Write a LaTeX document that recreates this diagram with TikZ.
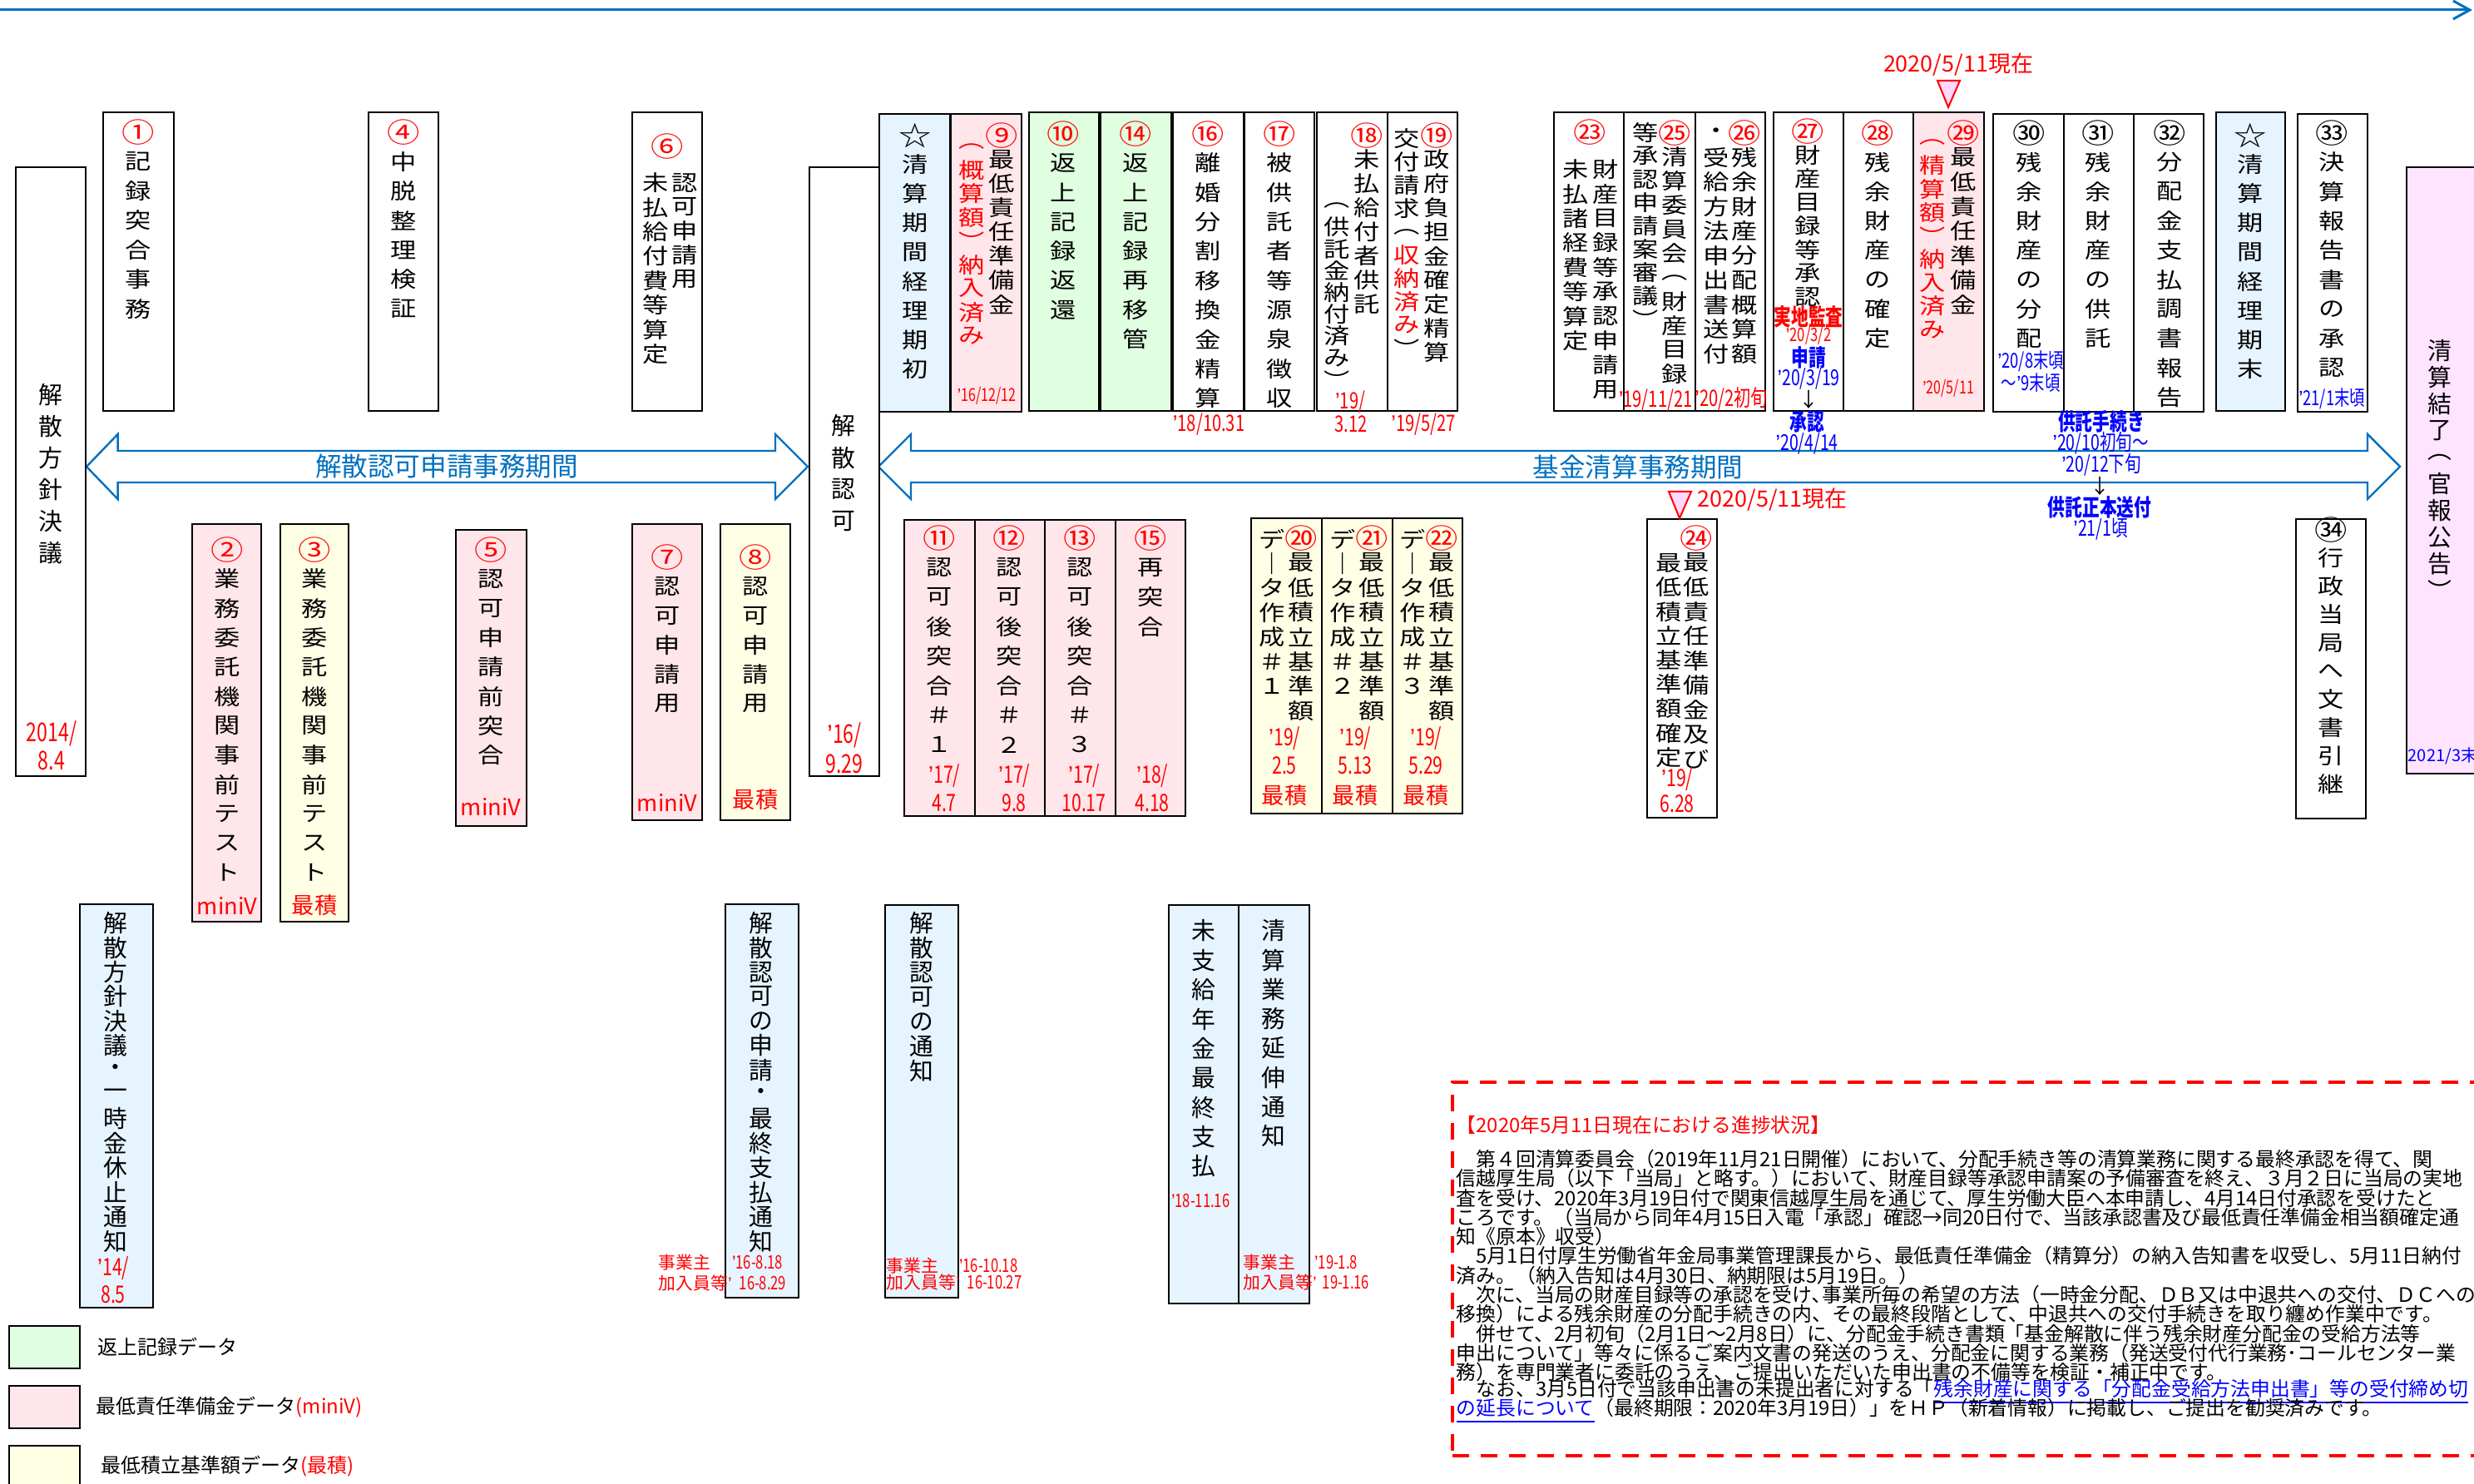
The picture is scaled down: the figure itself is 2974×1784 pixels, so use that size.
\documentclass[tikz,border=0pt]{standalone}
\usepackage{fontspec}
\setmainfont{Noto Sans CJK JP}
\newfontfamily\jp{Noto Sans CJK JP}
\newfontfamily\vf[FakeStretch=1.2]{Noto Sans CJK JP}
\newfontfamily\cf[FakeStretch=0.74]{Noto Sans CJK JP}
\newfontfamily\lqf{Liberation Sans}
\usetikzlibrary{arrows.meta}
\definecolor{lblue}{RGB}{230,244,255}
\definecolor{lpink}{RGB}{255,230,234}
\definecolor{lgreen}{RGB}{224,255,224}
\definecolor{lyel}{RGB}{255,255,230}
\definecolor{lmag}{RGB}{255,228,255}
\definecolor{abl}{RGB}{0,112,192}
\definecolor{rd}{RGB}{255,0,0}
\definecolor{bl}{RGB}{0,0,255}
\definecolor{tri}{RGB}{255,215,255}

\ExplSyntaxOn
\tl_new:N \l_vs_col_tl
\dim_new:N \l_vs_step_dim
\dim_new:N \l_vs_px_dim
\dim_set:Nn \l_vs_px_dim {0.25pt}
\newcommand\vsR{}
\newcommand\vsK{}
\newcommand\vsB{}
\NewDocumentCommand\vstack{mm}
 {
  \dim_set:Nn \l_vs_step_dim {#1\l_vs_px_dim}
  \tl_set:Nn \l_vs_col_tl {black}
  \vbox:n
   {
    \offinterlineskip
    \tl_map_inline:nn {#2}
     {
      \str_case:nnF {##1}
       {
        {\vsR}{\tl_set:Nn \l_vs_col_tl {rd}}
        {\vsK}{\tl_set:Nn \l_vs_col_tl {black}}
        {\vsB}{\tl_set:Nn \l_vs_col_tl {bl}}
       }
       {
        \hbox_to_wd:nn {1.2em}
         { \hss \vbox_to_ht:nn {\l_vs_step_dim} { \vss \hbox:n {\color{\l_vs_col_tl}##1} \vss } \hss }
       }
     }
   }
 }
\ExplSyntaxOff

\newcommand\fc[1]{\cf\fontsize{#1}{#1}\selectfont}
\newcommand\fj[1]{\jp\fontsize{#1}{#1}\selectfont}
\newcommand\cn{\fontsize{8.2pt}{8.2pt}\selectfont}
\newcommand\qq{{\lqf ’}}
\newcommand\bx[6]{\node[bx,fill=#6,minimum width={(#4-#2)*0.25pt},minimum height={(#5-#3)*0.25pt}] (#1) at ({(#2+#4)/2},{(#3+#5)/2}) {};}
\newcommand\vc[6][]{\node[vcol,#1] (#2) at (#3,{#4-#5/2}) {\vstack{#5}{#6}};}

\begin{document}
\begin{tikzpicture}[x=0.25pt,y=-0.25pt,
  bx/.style={draw=black,line width=0.7pt,inner sep=0pt,outer sep=0pt},
  vcol/.style={inner sep=0pt,anchor=north,font=\vf\fontsize{6.5pt}{6.5pt}\selectfont},
  vcolb/.style={font=\jp\fontsize{7.2pt}{7.2pt}\selectfont},
  rtx/.style={text=rd,inner sep=0pt},
  btx/.style={text=bl,inner sep=0pt},
  ln/.style={anchor=west,inner sep=0pt,font=\fj{5.95pt}},
  period/.style={draw=abl,line width=0.6pt,fill=white},
  marktri/.style={draw=rd,fill=tri,line width=0.5pt}]
\useasboundingbox (0,0) rectangle (2974,1784);

% top timeline
\coordinate (tl0) at (0,12);
\coordinate (tl1) at (2972,12);
\draw[abl,line width=0.75pt,-{Straight Barb[length=5pt,width=5.5pt]}] (tl0) -- (tl1);

% period arrows
\draw[period] (104,561) -- (141.6,522) -- (141.6,542) -- (932,542) -- (932,522) -- (971,561) -- (932,600) -- (932,580) -- (141.6,580) -- (141.6,600) -- cycle;
\draw[period] (1056,561) -- (1095,522) -- (1095,542) -- (2846,542) -- (2846,522) -- (2885,561) -- (2846,600) -- (2846,580) -- (1095,580) -- (1095,600) -- cycle;
\node[text=abl,font=\fj{7.9pt},inner sep=0pt] (al1) at (537,561) {解散認可申請事務期間};
\node[text=abl,font=\fj{7.9pt},inner sep=0pt] (al2) at (1969,561) {基金清算事務期間};

% ---------- boxes ----------
\bx{b1}{124}{135}{209}{494}{white}
\bx{b4}{443}{135}{527}{494}{white}
\bx{b6}{760}{135}{844}{494}{white}
\bx{bL}{19}{201}{103}{933}{white}
\bx{bN}{973}{201}{1057}{933}{white}
\bx{bS1}{1057}{137}{1142}{495}{lblue}
\bx{b9}{1143}{137}{1228}{495}{lpink}
\bx{b10}{1237}{135}{1321}{494}{lgreen}
\bx{b14}{1323}{135}{1408}{494}{lgreen}
\bx{b16}{1410}{135}{1495}{494}{white}
\bx{b17}{1496}{135}{1580}{494}{white}
\bx{b18}{1583}{135}{1668}{494}{white}
\bx{b19}{1668}{135}{1752}{494}{white}
\bx{b23}{1868}{135}{1952}{494}{white}
\bx{b25}{1952}{135}{2038}{494}{white}
\bx{b26}{2038}{135}{2122}{494}{white}
\bx{b27}{2132}{135}{2216}{494}{white}
\bx{b28}{2216}{135}{2300}{494}{white}
\bx{b29}{2300}{135}{2385}{494}{lpink}
\bx{b30}{2396}{137}{2481}{495}{white}
\bx{b31}{2481}{137}{2565}{495}{white}
\bx{b32}{2565}{137}{2649}{495}{white}
\bx{bS2}{2664}{135}{2747}{494}{lblue}
\bx{b33}{2762}{137}{2846}{495}{white}
\bx{bE}{2893}{201}{2995}{930}{lmag}
\bx{b2}{231}{630}{314}{1108}{lpink}
\bx{b3}{337}{630}{419}{1108}{lyel}
\bx{b5}{548}{637}{633}{993}{lpink}
\bx{b7}{760}{630}{844}{986}{lpink}
\bx{b8}{866}{630}{950}{986}{lyel}
\bx{b11}{1087}{625}{1172}{981}{lpink}
\bx{b12}{1172}{625}{1256}{981}{lpink}
\bx{b13}{1256}{625}{1341}{981}{lpink}
\bx{b15}{1341}{625}{1425}{981}{lpink}
\bx{b20}{1504}{623}{1589}{978}{lyel}
\bx{b21}{1589}{623}{1674}{978}{lyel}
\bx{b22}{1674}{623}{1758}{978}{lyel}
\bx{b24}{1980}{624}{2064}{983}{white}
\bx{b34}{2760}{624}{2844}{984}{white}
\bx{bA}{96}{1087}{184}{1572}{lblue}
\bx{bB}{872}{1087}{960}{1560}{lblue}
\bx{bC}{1064}{1088}{1152}{1560}{lblue}
\bx{bD}{1405}{1088}{1489}{1567}{lblue}
\bx{bF}{1489}{1088}{1574}{1567}{lblue}
\bx{lg1}{11}{1594}{96}{1645}{lgreen}
\bx{lg2}{11}{1666}{96}{1717}{lpink}
\bx{lg3}{11}{1738}{96}{1790}{lyel}

% ---------- vertical texts ----------
\vc{t1}{166}{158}{35.4}{\vsR {\cn ①}\vsK 記録突合事務}
\vc{t4}{485}{158}{35.4}{\vsR {\cn ④}\vsK 中脱整理検証}
\node[text=rd,font=\vf\cn,inner sep=0pt] (t6n) at (802,176) {⑥};
\vc{t6a}{823}{219}{29}{認可申請用}
\vc{t6b}{788}{219}{29.4}{未払給付費等算定}
\vc[vcolb]{tL}{61}{474}{38}{解散方針決議}
\vc[vcolb]{tN}{1014}{511}{38.3}{解散認可}
\vc{tS1}{1100}{162}{35.1}{{\cn ☆}清算期間経理期初}
\vc{t9a}{1204}{162}{29}{\vsR {\cn ⑨}\vsK 最低責任準備金}
\vc{t9b}{1168}{175}{28.5}{\vsR ︵概算額︶納入済み}
\vc{t10}{1278}{160}{35.3}{\vsR {\cn ⑩}\vsK 返上記録返還}
\vc{t14}{1365}{160}{35.3}{\vsR {\cn ⑭}\vsK 返上記録再移管}
\vc{t16}{1452}{160}{35.3}{\vsR {\cn ⑯}\vsK 離婚分割移換金精算}
\vc{t17}{1538}{160}{35.3}{\vsR {\cn ⑰}\vsK 被供託者等源泉徴収}
\vc{t18a}{1643}{162}{29}{\vsR {\cn ⑱}\vsK 未払給付者供託}
\vc{t18b}{1607}{246}{26.2}{︵供託金納付済み︶}
\vc{t19a}{1727}{162}{29}{\vsR {\cn ⑲}\vsK 政府負担金確定精算}
\vc{t19b}{1691}{166}{28}{交付請求︵\vsR 収納済み\vsK ︶}
\node[text=rd,font=\vf\cn,inner sep=0pt] (t23n) at (1911,159) {㉓};
\vc{t23a}{1930}{203}{29.4}{財産目録等承認申請用}
\vc{t23b}{1894}{203}{29.4}{未払諸経費等算定}
\vc{t25a}{2013}{159}{29}{\vsR {\cn ㉕}\vsK 清算委員会︵財産目録}
\vc{t25b}{1978}{159}{28}{等承認申請案審議︶}
\vc{t26a}{2097}{159}{29.5}{\vsR {\cn ㉖}\vsK 残余財産分配概算額}
\vc{t26b}{2063}{159}{29.5}{・受給方法申出書送付}
\vc{t27}{2173}{157}{28.5}{\vsR {\cn ㉗}\vsK 財産目録等承認}
\vc{t28}{2257}{159}{35.3}{\vsR {\cn ㉘}\vsK 残余財産の確定}
\vc{t29a}{2360}{159}{29.5}{\vsR {\cn ㉙}\vsK 最低責任準備金}
\vc{t29b}{2323}{170}{28.2}{\vsR ︵精算額︶納入済み}
\vc{t30}{2439}{159}{35.3}{{\cn ㉚}残余財産の分配}
\vc{t31}{2522}{159}{35.3}{{\cn ㉛}残余財産の供託}
\vc{t32}{2608}{159}{35.3}{{\cn ㉜}分配金支払調書報告}
\vc{tS2}{2705}{162}{35.1}{{\cn ☆}清算期間経理期末}
\vc{t33}{2803}{159}{35.3}{{\cn ㉝}決算報告書の承認}
\vc[vcolb]{tE}{2933}{421}{32}{清算結了︵官報公告︶}
\vc{t2}{273}{660}{35.3}{\vsR {\cn ②}\vsK 業務委託機関事前テスト}
\vc{t3}{378}{660}{35.3}{\vsR {\cn ③}\vsK 業務委託機関事前テスト}
\vc{t5}{590}{660}{35.3}{\vsR {\cn ⑤}\vsK 認可申請前突合}
\vc{t7}{802}{669}{35.2}{\vsR {\cn ⑦}\vsK 認可申請用}
\vc{t8}{908}{669}{35.2}{\vsR {\cn ⑧}\vsK 認可申請用}
\vc{t11}{1129}{646}{35.5}{\vsR {\cn ⑪}\vsK 認可後突合＃１}
\vc{t12}{1213}{646}{35.5}{\vsR {\cn ⑫}\vsK 認可後突合＃２}
\vc{t13}{1298}{646}{35.5}{\vsR {\cn ⑬}\vsK 認可後突合＃３}
\vc{t15}{1383}{646}{35.5}{\vsR {\cn ⑮}\vsK 再突合}
\vc{t20a}{1564}{646}{29.7}{\vsR {\cn ⑳}\vsK 最低積立基準額}
\vc{t20b}{1529}{647}{29.5}{デ｜タ作成＃１}
\vc{t21a}{1649}{646}{29.7}{\vsR {\cn ㉑}\vsK 最低積立基準額}
\vc{t21b}{1614}{647}{29.5}{デ｜タ作成＃２}
\vc{t22a}{1733}{646}{29.7}{\vsR {\cn ㉒}\vsK 最低積立基準額}
\vc{t22b}{1698}{647}{29.5}{デ｜タ作成＃３}
\vc{t24a}{2039}{646}{29.5}{\vsR {\cn ㉔}\vsK 最低責任準備金及び}
\vc{t24b}{2006}{676}{29.2}{最低積立基準額確定}
\vc{t34}{2802}{636}{34}{{\cn ㉞}行政当局へ文書引継}
\vc[vcolb]{tA}{139}{1109}{29.4}{解散方針決議・一時金休止通知}
\vc[vcolb]{tB}{915}{1109}{29.4}{解散認可の申請・最終支払通知}
\vc[vcolb]{tC}{1108}{1109}{29.6}{解散認可の通知}
\vc[vcolb]{tD}{1447}{1118}{35.4}{未支給年金最終支払}
\vc[vcolb]{tF}{1531}{1118}{35.3}{清算業務延伸通知}

% ---------- red / blue dates ----------
\node[rtx,font=\fc{7.8pt}] (dLa) at (62,882) {2014/};
\node[rtx,font=\fc{7.8pt}] (dLb) at (62,914) {8.4};
\node[rtx,font=\fc{7.8pt}] (dNa) at (1015,884) {\qq 16/};
\node[rtx,font=\fc{7.8pt}] (dNb) at (1015,918) {9.29};
\node[rtx,font=\fc{5.4pt}] (d9) at (1186,476) {\qq 16/12/12};
\node[rtx,font=\fc{6.8pt}] (d16) at (1453,510) {\qq 18/10.31};
\node[rtx,font=\fc{6.8pt}] (d18a) at (1623,483) {\qq 19/};
\node[rtx,font=\fc{6.8pt}] (d18b) at (1624,510) {3.12};
\node[rtx,font=\fc{6.8pt}] (d19) at (1711,510) {\qq 19/5/27};
\node[rtx,font=\fc{6.8pt}] (d23) at (1990,481) {\qq 19/11/21};
\node[rtx,font=\fc{6.8pt}] (d26) at (2081,480) {\qq 20/2初旬};
\node[rtx,font=\fc{5.4pt}] (d29) at (2342,467) {\qq 20/5/11};
\node[rtx,font=\fc{7pt}\bfseries] (n27a) at (2174,381) {実地監査};
\node[rtx,font=\fc{5.6pt}] (n27b) at (2174,404) {\qq 20/3/2};
\node[btx,font=\fc{7pt}\bfseries] (n27c) at (2174,430) {申請};
\node[btx,font=\fc{6.6pt}] (n27d) at (2174,455) {\qq 20/3/19};
\node[inner sep=0pt,font=\fj{6pt}] (n27e) at (2174,480) {↓};
\node[btx,font=\fc{7pt}\bfseries] (n27f) at (2172,507) {承認};
\node[btx,font=\fc{6.6pt}] (n27g) at (2172,533) {\qq 20/4/14};
\node[btx,font=\fc{6.2pt}] (d30a) at (2441,434) {\qq 20/8末頃};
\node[btx,font=\fc{6.2pt}] (d30b) at (2441,460) {～\qq 9末頃};
\node[btx,font=\fc{6.2pt}] (d33) at (2803,479) {\qq 21/1末頃};
\node[btx,font=\fj{5pt},anchor=west] (dE) at (2894,909) {2021/3末};
\node[btx,font=\fc{7pt}\bfseries] (k1) at (2526,507) {供託手続き};
\node[btx,font=\fc{6.6pt}] (k2) at (2525,533) {\qq 20/10初旬～};
\node[btx,font=\fc{6.6pt}] (k3) at (2526,559) {\qq 20/12下旬};
\node[inner sep=0pt,font=\fj{6pt}] (k4) at (2524,584) {↓};
\node[btx,font=\fc{7pt}\bfseries] (k5) at (2524,610) {供託正本送付};
\node[btx,font=\fc{6.6pt}] (k6) at (2525,636) {\qq 21/1頃};

\node[rtx,font=\fj{6.8pt}] (m2) at (273,1089) {miniV};
\node[rtx,font=\fj{6.8pt}] (m3) at (378,1088) {最積};
\node[rtx,font=\fj{6.8pt}] (m5) at (590,970) {miniV};
\node[rtx,font=\fj{6.8pt}] (m7) at (802,965) {miniV};
\node[rtx,font=\fj{6.8pt}] (m8) at (908,961) {最積};
\node[rtx,font=\fc{7.2pt}] (d11a) at (1135,933) {\qq 17/};
\node[rtx,font=\fc{7.2pt}] (d11b) at (1135,965) {4.7};
\node[rtx,font=\fc{7.2pt}] (d12a) at (1219,933) {\qq 17/};
\node[rtx,font=\fc{7.2pt}] (d12b) at (1219,965) {9.8};
\node[rtx,font=\fc{7.2pt}] (d13a) at (1303,933) {\qq 17/};
\node[rtx,font=\fc{7.2pt}] (d13b) at (1303,965) {10.17};
\node[rtx,font=\fc{7.2pt}] (d15a) at (1385,933) {\qq 18/};
\node[rtx,font=\fc{7.2pt}] (d15b) at (1385,965) {4.18};
\node[rtx,font=\fc{7.2pt}] (d20a) at (1544,888) {\qq 19/};
\node[rtx,font=\fc{7.2pt}] (d20b) at (1544,920) {2.5};
\node[rtx,font=\fj{6.8pt}] (d20c) at (1544,956) {最積};
\node[rtx,font=\fc{7.2pt}] (d21a) at (1629,888) {\qq 19/};
\node[rtx,font=\fc{7.2pt}] (d21b) at (1629,920) {5.13};
\node[rtx,font=\fj{6.8pt}] (d21c) at (1629,956) {最積};
\node[rtx,font=\fc{7.2pt}] (d22a) at (1714,888) {\qq 19/};
\node[rtx,font=\fc{7.2pt}] (d22b) at (1714,920) {5.29};
\node[rtx,font=\fj{6.8pt}] (d22c) at (1714,956) {最積};
\node[rtx,font=\fc{7.2pt}] (d24a) at (2016,937) {\qq 19/};
\node[rtx,font=\fc{7.2pt}] (d24b) at (2016,966) {6.28};
\node[rtx,font=\fc{7.2pt}] (dAa) at (136,1525) {\qq 14/};
\node[rtx,font=\fc{7.2pt}] (dAb) at (136,1556) {8.5};

\node[rtx,font=\fj{5.2pt},anchor=west] (nB1) at (791,1518) {事業主};
\node[rtx,font=\fc{5.6pt},anchor=west] (nB2) at (879,1518) {\qq 16-8.18};
\node[rtx,font=\fj{5.2pt},anchor=west] (nB3) at (791,1543) {加入員等\qq};
\node[rtx,font=\fc{5.6pt},anchor=west] (nB4) at (888,1543) {16-8.29};
\node[rtx,font=\fj{5.2pt},anchor=west] (nC1) at (1065,1522) {事業主};
\node[rtx,font=\fc{5.6pt},anchor=west] (nC2) at (1152,1522) {\qq 16-10.18};
\node[rtx,font=\fj{5.2pt},anchor=west] (nC3) at (1065,1542) {加入員等\qq};
\node[rtx,font=\fc{5.6pt},anchor=west] (nC4) at (1162,1542) {16-10.27};
\node[rtx,font=\fc{5.6pt},anchor=west] (nD1) at (1407,1444) {\qq 18-11.16};
\node[rtx,font=\fj{5.2pt},anchor=west] (nF1) at (1494,1518) {事業主};
\node[rtx,font=\fc{5.6pt},anchor=west] (nF2) at (1579,1518) {\qq 19-1.8};
\node[rtx,font=\fj{5.2pt},anchor=west] (nF3) at (1494,1542) {加入員等\qq};
\node[rtx,font=\fc{5.6pt},anchor=west] (nF4) at (1589,1542) {19-1.16};

% markers
\node[rtx,font=\fj{6.75pt}] (mk1) at (2354,78) {2020/5/11現在};
\draw[marktri] (2329,97) -- (2356,97) -- (2342,129) -- cycle;
\draw[marktri] (2006,591) -- (2033,591) -- (2019,623) -- cycle;
\node[rtx,font=\fj{6.75pt},anchor=west] (mk2) at (2040,601) {2020/5/11現在};

% legend texts
\node[anchor=west,inner sep=0pt,font=\fj{6pt}] (lt1) at (117,1619) {返上記録データ};
\node[anchor=west,inner sep=0pt,font=\fj{6pt}] (lt2) at (115,1692) {最低責任準備金データ\textcolor{rd}{(miniV)}};
\node[anchor=west,inner sep=0pt,font=\fj{6pt}] (lt3) at (121,1763) {最低積立基準額データ\textcolor{rd}{(最積)}};

% status text box
\node[draw=rd,line width=1pt,dash pattern=on 5pt off 3.5pt,inner sep=0pt,minimum width={(3010-1746)*0.25pt},minimum height={(1750-1301)*0.25pt}] (tb) at ({(1746+3010)/2},{(1301+1750)/2}) {};
\node[ln,text=rd] (h0) at (1750,1352) {【2020年5月11日現在における進捗状況】};
\node[ln] (l1) at (1750,1393) {　第４回清算委員会（2019年11月21日開催）において、分配手続き等の清算業務に関する最終承認を得て、関};
\node[ln] (l2) at (1750,1416) {信越厚生局（以下「当局」と略す。）において、財産目録等承認申請案の予備審査を終え、３月２日に当局の実地};
\node[ln] (l3) at (1750,1440) {査を受け、2020年3月19日付で関東信越厚生局を通じて、厚生労働大臣へ本申請し、4月14日付承認を受けたと};
\node[ln] (l4) at (1750,1463) {ころです。（当局から同年4月15日入電「承認」確認→同20日付で、当該承認書及び最低責任準備金相当額確定通};
\node[ln] (l5) at (1750,1486) {知《原本》収受）};
\node[ln] (l6) at (1750,1509) {　5月1日付厚生労働省年金局事業管理課長から、最低責任準備金（精算分）の納入告知書を収受し、5月11日納付};
\node[ln] (l7) at (1750,1533) {済み。（納入告知は4月30日、納期限は5月19日。）};
\node[ln] (l8) at (1750,1556) {　次に、当局の財産目録等の承認を受け､事業所毎の希望の方法（一時金分配、ＤＢ又は中退共への交付、ＤＣへの};
\node[ln] (l9) at (1750,1579) {移換）による残余財産の分配手続きの内、その最終段階として、中退共への交付手続きを取り纏め作業中です。};
\node[ln] (l10) at (1750,1603) {　併せて、2月初旬（2月1日～2月8日）に、分配金手続き書類「基金解散に伴う残余財産分配金の受給方法等};
\node[ln] (l11) at (1750,1626) {申出について」等々に係るご案内文書の発送のうえ、分配金に関する業務（発送受付代行業務･コールセンター業};
\node[ln] (l12) at (1750,1649) {務）を専門業者に委託のうえ、ご提出いただいた申出書の不備等を検証・補正中です。};
\node[ln] (l13) at (1750,1673) {　なお、3月5日付で当該申出書の未提出者に対する「\textcolor{bl}{\underline{残余財産に関する「分配金受給方法申出書」等の受付締め切}}};
\node[ln] (l14) at (1750,1696) {\textcolor{bl}{\underline{の延長について}}（最終期限：2020年3月19日）」をＨＰ（新着情報）に掲載し、ご提出を勧奨済みです。};
\end{tikzpicture}
\end{document}
